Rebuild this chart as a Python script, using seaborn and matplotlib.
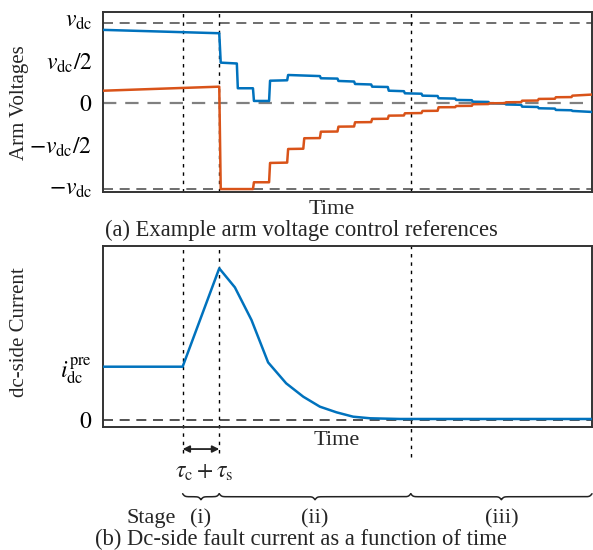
import numpy as np
import matplotlib
matplotlib.use("Agg")
import matplotlib.pyplot as plt
import seaborn as sns

# ---------------- data ----------------
t_fault = 16.2      # fault instant
t_block = 23.7      # end of detection/decision delay
t_stage3 = 62.9     # start of stage (iii)
t_end = 100.0

vdc_hi_level = 0.955
zero_level = 0.0
vdc_lo_level = -1.025

blue_t = [0, 23.7, 24.0, 27.3, 27.5, 30.6, 30.8, 33.9, 34.1, 37.6, 37.8, 44.3, 44.5,
          47.9, 48.1, 51.3, 51.5, 54.8, 55.0, 58.2, 58.4, 61.5, 61.7, 65.1, 65.3,
          68.4, 68.6, 72.0, 72.2, 75.4, 75.6, 78.8, 79.0, 82.2, 82.4, 85.5, 85.7,
          88.9, 89.1, 92.4, 92.6, 95.8, 96.0, 100]
blue_v = [0.87, 0.83, 0.48, 0.47, 0.175, 0.175, 0.024, 0.024, 0.265, 0.27, 0.333, 0.32,
          0.294, 0.29, 0.262, 0.255, 0.226, 0.22, 0.194, 0.19, 0.146, 0.14, 0.115, 0.11,
          0.087, 0.083, 0.056, 0.052, 0.036, 0.033, 0.015, 0.012, -0.004, -0.008,
          -0.018, -0.022, -0.044, -0.048, -0.063, -0.067, -0.083, -0.087, -0.095, -0.107]

orange_t = [0, 23.7, 24.0, 30.6, 30.8, 33.9, 34.1, 37.6, 37.8, 40.9, 41.1, 44.3, 44.5,
            47.9, 48.1, 51.3, 51.5, 54.8, 55.0, 58.2, 58.4, 61.5, 61.7, 65.1, 65.3,
            68.4, 68.6, 72.0, 72.2, 75.4, 75.6, 78.8, 79.0, 82.2, 82.4, 85.5, 85.7,
            88.9, 89.1, 92.4, 92.6, 95.8, 96.0, 100]
orange_v = [0.146, 0.194, -1.025, -1.025, -0.944, -0.944, -0.714, -0.71, -0.548, -0.545,
            -0.42, -0.418, -0.342, -0.34, -0.282, -0.28, -0.23, -0.228, -0.19, -0.188,
            -0.151, -0.149, -0.123, -0.12, -0.095, -0.093, -0.051, -0.05, -0.036, -0.034,
            -0.015, -0.013, -0.004, -0.002, 0.008, 0.01, 0.027, 0.029, 0.048, 0.05,
            0.068, 0.07, 0.087, 0.10]

cur_t = [0, 16.2, 23.7, 26.9, 30.3, 33.7, 37.4, 40.9, 44.3, 47.7, 51.1, 54.6, 60.7, 100]
cur_v = [1.0, 1.0, 2.846, 2.489, 1.876, 1.081, 0.688, 0.437, 0.250, 0.144, 0.062,
         0.032, 0.019, 0.019]

volt_ticks = [1, 0.5, 0, -0.5, -1]
volt_labels = [r"$v_{\mathrm{dc}}$", r"$v_{\mathrm{dc}}/2$", r"$0$",
               r"$-v_{\mathrm{dc}}/2$", r"$-v_{\mathrm{dc}}$"]
cur_ticks = [0, 1]
cur_labels = [r"$0$", r"$i_{\mathrm{dc}}^{\mathrm{pre}}$"]
stage_bounds = [t_fault, t_block, t_stage3, t_end]
stage_labels = ["(i)", "(ii)", "(iii)"]

# ---------------- style ----------------
sns.set_style("ticks")
plt.rcParams["font.family"] = ["Liberation Serif", "DejaVu Serif"]
plt.rcParams["mathtext.fontset"] = "stix"
FS = 16          # labels
FS_Y = 15        # y-axis titles
FS_CAP = 16.3    # captions
FS_TICK = 17     # tick labels

blue = "#0072BD"
orange = "#D95319"
frame = "#333333"

fig = plt.figure(figsize=(5.93, 5.5), dpi=100)
ax1 = fig.add_axes([0.1745, 0.6509, 0.8238, 0.3273])
ax2 = fig.add_axes([0.1745, 0.2231, 0.8238, 0.3296])

dash = (0, (6, 4))
dot = (0, (2.5, 3.5))

# ---------------- top: arm voltages ----------------
ax1.axhline(vdc_hi_level, color="#555555", lw=1.2, ls=dash, zorder=1)
ax1.axhline(zero_level, color="#808080", lw=1.6, ls=dash, zorder=1)
ax1.axhline(vdc_lo_level, color="#555555", lw=1.2, ls=dash, zorder=1)
for tv in [t_fault, t_block, t_stage3]:
    ax1.axvline(tv, color="black", lw=1.0, ls=dot, zorder=1)

sns.lineplot(x=blue_t, y=blue_v, ax=ax1, sort=False, estimator=None,
             color=blue, lw=1.8, zorder=3)
sns.lineplot(x=orange_t, y=orange_v, ax=ax1, sort=False, estimator=None,
             color=orange, lw=1.8, zorder=3)

ax1.set_xlim(0, t_end)
ax1.set_ylim(-1.06, 1.083)
ax1.set_yticks(volt_ticks)
ax1.set_yticklabels(volt_labels)
ax1.set_xticks([])
ax1.set_xlabel("Time", fontsize=FS)
ax1.xaxis.set_label_coords(0.468, -0.045)
ax1.set_ylabel("Arm Voltages", fontsize=FS_Y)
ax1.yaxis.set_label_coords(-0.152, 0.494)

# ---------------- bottom: dc-side current ----------------
ax2.axhline(0, color="#333333", lw=1.2, ls=dash, zorder=1)
ax2.axvline(t_fault, ymin=-0.142, ymax=1, color="black", lw=1.0, ls=dot,
            clip_on=False, zorder=1)
ax2.axvline(t_block, ymin=-0.142, ymax=1, color="black", lw=1.0, ls=dot,
            clip_on=False, zorder=1)
ax2.axvline(t_stage3, ymin=-0.162, ymax=1, color="black", lw=1.0, ls=dot,
            clip_on=False, zorder=1)

sns.lineplot(x=cur_t, y=cur_v, ax=ax2, sort=False, estimator=None,
             color=blue, lw=1.8, zorder=3)

ax2.set_xlim(0, t_end)
ax2.set_ylim(-0.137, 3.265)
ax2.set_yticks(cur_ticks)
ax2.set_yticklabels(cur_labels)
ax2.set_xticks([])
ax2.set_xlabel("Time", fontsize=FS)
ax2.xaxis.set_label_coords(0.478, -0.022)
ax2.set_ylabel("dc-side Current", fontsize=FS_Y)
ax2.yaxis.set_label_coords(-0.152, 0.526)

for ax in (ax1, ax2):
    for sp in ax.spines.values():
        sp.set_color(frame)
        sp.set_linewidth(1.4)
    ax.tick_params(axis="y", direction="in", length=0, width=1.0, color=frame,
                   labelsize=FS_TICK, pad=8, labelcolor="black")
    ax.tick_params(axis="x", length=0)

# double arrow for tau_c + tau_s
xt = ax2.get_xaxis_transform()
ax2.annotate("", xy=(t_block, -0.12), xytext=(t_fault, -0.12), xycoords=xt,
             textcoords=xt,
             arrowprops=dict(arrowstyle="<|-|>", color="#222222", lw=1.3,
                             mutation_scale=10, shrinkA=0, shrinkB=0))
ax2.text((t_fault + t_block) / 2 + 0.6, -0.25,
         r"$\tau_{\mathrm{c}}+\tau_{\mathrm{s}}$", transform=xt,
         ha="center", va="center", fontsize=FS_TICK)


# braces for stages
def brace(ax, x0, x1, y0, h, beta=4.4, n=401):
    x = np.linspace(x0, x1, n)
    half = x[: n // 2 + 1]
    yh = (1 / (1 + np.exp(-beta * (half - half[0])))
          + 1 / (1 + np.exp(-beta * (half - half[-1]))))
    yy = np.concatenate([yh, yh[-2::-1]])
    ax.plot(x, y0 - (yy - 1.0) * h, transform=ax.get_xaxis_transform(),
            clip_on=False, color="#222222", lw=1.1)


stage_y = (427.3 - 523) / 181.3
for a, b, lab in zip(stage_bounds[:-1], stage_bounds[1:], stage_labels):
    brace(ax2, a, b, -0.383, 0.033)
    ax2.text((a + b) / 2, stage_y, lab, transform=xt, ha="center", va="baseline",
             fontsize=FS)
ax2.text(t_fault - 1.4, stage_y, "Stage", transform=xt, ha="right", va="baseline",
         fontsize=FS)

# captions
fig.text(0.508, 1 - 236.5 / 550, "(a) Example arm voltage control references",
         ha="center", va="baseline", fontsize=FS_CAP)
fig.text(0.507, 1 - 545.5 / 550, "(b) Dc-side fault current as a function of time",
         ha="center", va="baseline", fontsize=FS_CAP)

fig.savefig("out.png", dpi=100)
